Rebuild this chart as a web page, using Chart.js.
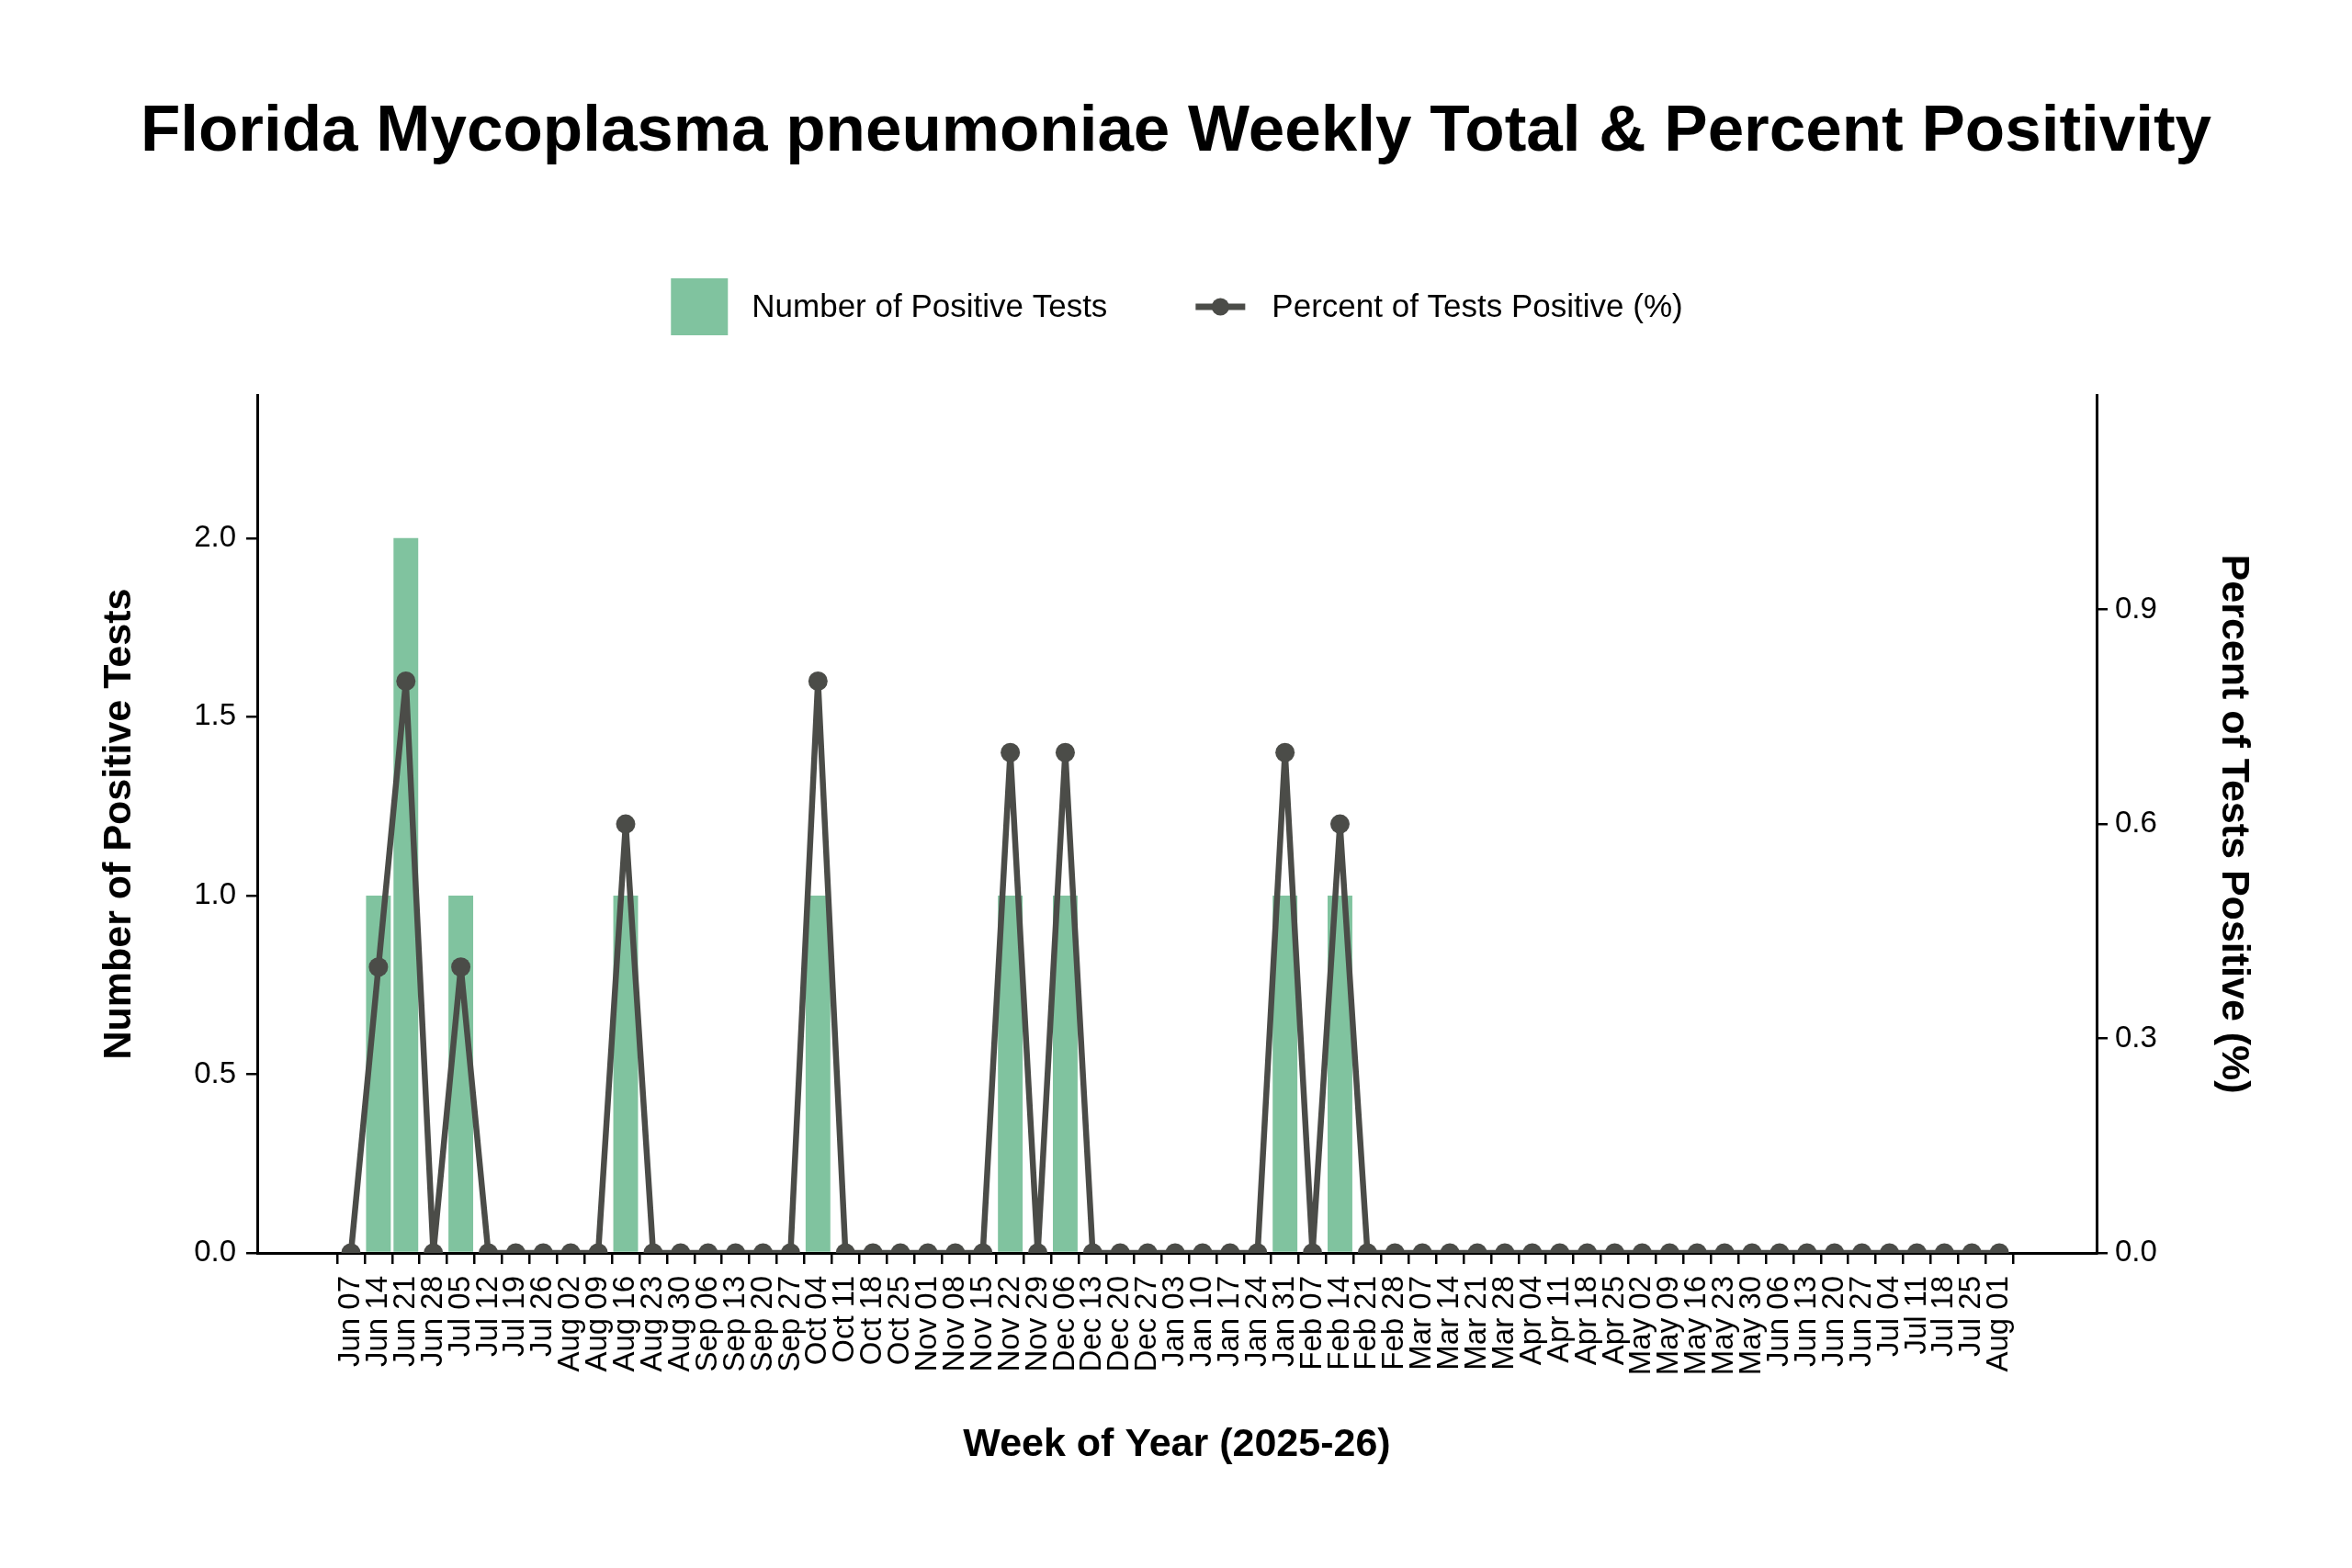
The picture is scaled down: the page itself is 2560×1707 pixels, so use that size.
<!DOCTYPE html>
<html>
<head>
<meta charset="utf-8">
<script src="https://cdn.jsdelivr.net/npm/chart.js@4.4.1/dist/chart.umd.min.js"></script>
<style>
  body { margin: 0; background: #ffffff; }
  #wrap { width: 2560px; height: 1707px; }
</style>
</head>
<body>
<div id="wrap"><canvas id="mycoChart" width="2560" height="1707"></canvas></div>
<script>
const weeks = [
  'Jun 07', 'Jun 14', 'Jun 21', 'Jun 28', 'Jul 05', 'Jul 12', 'Jul 19', 'Jul 26',
  'Aug 02', 'Aug 09', 'Aug 16', 'Aug 23', 'Aug 30', 'Sep 06', 'Sep 13', 'Sep 20',
  'Sep 27', 'Oct 04', 'Oct 11', 'Oct 18', 'Oct 25', 'Nov 01', 'Nov 08', 'Nov 15',
  'Nov 22', 'Nov 29', 'Dec 06', 'Dec 13', 'Dec 20', 'Dec 27', 'Jan 03', 'Jan 10',
  'Jan 17', 'Jan 24', 'Jan 31', 'Feb 07', 'Feb 14', 'Feb 21', 'Feb 28', 'Mar 07',
  'Mar 14', 'Mar 21', 'Mar 28', 'Apr 04', 'Apr 11', 'Apr 18', 'Apr 25', 'May 02',
  'May 09', 'May 16', 'May 23', 'May 30', 'Jun 06', 'Jun 13', 'Jun 20', 'Jun 27',
  'Jul 04', 'Jul 11', 'Jul 18', 'Jul 25', 'Aug 01'
];

const positiveTests = [
  0, 1, 2, 0, 1, 0, 0, 0, 0, 0, 1, 0, 0, 0, 0, 0,
  0, 1, 0, 0, 0, 0, 0, 0, 1, 0, 1, 0, 0, 0, 0, 0,
  0, 0, 1, 0, 1, 0, 0, 0, 0, 0, 0, 0, 0, 0, 0, 0,
  0, 0, 0, 0, 0, 0, 0, 0, 0, 0, 0, 0, 0
];

const percentPositive = [
  0, 0.4, 0.8, 0, 0.4, 0, 0, 0, 0, 0, 0.6, 0, 0, 0, 0, 0,
  0, 0.8, 0, 0, 0, 0, 0, 0, 0.7, 0, 0.7, 0, 0, 0, 0, 0,
  0, 0, 0.7, 0, 0.6, 0, 0, 0, 0, 0, 0, 0, 0, 0, 0, 0,
  0, 0, 0, 0, 0, 0, 0, 0, 0, 0, 0, 0, 0
];

const countTicks = [0, 0.5, 1, 1.5, 2];
const percentTicks = [0, 0.3, 0.6, 0.9];

const barColor = '#80c39f';
const lineColor = '#4b4c48';
const fontFamily = "'Liberation Sans', Arial, sans-serif";

// legend drawn by hand so it can sit in the gap between title and plot
const ggLegend = {
  id: 'ggLegend',
  afterDraw(chart) {
    const ctx = chart.ctx;
    const barSet = chart.data.datasets[1];
    const lineSet = chart.data.datasets[0];
    const cy = 334;
    ctx.save();
    ctx.font = '35px ' + fontFamily;
    ctx.textBaseline = 'middle';
    ctx.textAlign = 'left';
    const w1 = ctx.measureText(barSet.label).width;
    const w2 = ctx.measureText(lineSet.label).width;
    const total = 62 + 26 + w1 + 96 + 54 + 29 + w2;
    let x = (chart.chartArea.left + chart.chartArea.right) / 2 - total / 2;

    ctx.fillStyle = barSet.backgroundColor;
    ctx.fillRect(x, cy - 31, 62, 62);
    x += 62 + 26;
    ctx.fillStyle = '#000000';
    ctx.fillText(barSet.label, x, cy + 1);
    x += w1 + 96;

    ctx.strokeStyle = lineSet.borderColor;
    ctx.lineWidth = 7;
    ctx.beginPath();
    ctx.moveTo(x, cy);
    ctx.lineTo(x + 54, cy);
    ctx.stroke();
    ctx.fillStyle = lineSet.borderColor;
    ctx.beginPath();
    ctx.arc(x + 27, cy, 9.5, 0, Math.PI * 2);
    ctx.fill();
    x += 54 + 29;
    ctx.fillStyle = '#000000';
    ctx.fillText(lineSet.label, x, cy + 1);
    ctx.restore();
  }
};

const axisLine = { display: true, color: '#000000', width: 3 };
const tickMarks = {
  display: true,
  drawOnChartArea: false,
  drawTicks: true,
  tickLength: 12,
  color: '#000000',
  lineWidth: 2.5
};

const ctx = document.getElementById('mycoChart').getContext('2d');
new Chart(ctx, {
  data: {
    labels: weeks,
    datasets: [
      {
        type: 'line',
        label: 'Percent of Tests Positive (%)',
        data: percentPositive.map((v, i) => ({ x: i, y: v })),
        yAxisID: 'y1',
        borderColor: lineColor,
        backgroundColor: lineColor,
        borderWidth: 6.5,
        pointRadius: 10.5,
        pointHoverRadius: 10.5,
        pointBackgroundColor: lineColor,
        pointBorderWidth: 0,
        tension: 0,
        clip: 0,
        order: 0
      },
      {
        type: 'bar',
        label: 'Number of Positive Tests',
        data: positiveTests.map((v, i) => ({ x: i, y: v })),
        yAxisID: 'y',
        backgroundColor: barColor,
        borderWidth: 0,
        barPercentage: 0.9,
        categoryPercentage: 1.0,
        order: 1
      }
    ]
  },
  plugins: [ggLegend],
  options: {
    responsive: false,
    devicePixelRatio: 1,
    animation: false,
    layout: { padding: 0 },
    plugins: {
      legend: { display: false },
      tooltip: { enabled: false },
      title: {
        display: true,
        text: 'Florida Mycoplasma pneumoniae Weekly Total & Percent Positivity',
        color: '#000000',
        font: { family: fontFamily, size: 71, weight: 'bold' },
        padding: { top: 102, bottom: 243 }
      }
    },
    scales: {
      x: {
        type: 'linear',
        position: 'bottom',
        offset: false,
        min: -3.41,
        max: 63.54,
        afterBuildTicks: (axis) => { axis.ticks = weeks.map((w, i) => ({ value: i })); },
        afterFit: (axis) => { axis.height = 343; },
        border: axisLine,
        grid: tickMarks,
        ticks: {
          autoSkip: false,
          minRotation: 90,
          maxRotation: 90,
          padding: 13,
          color: '#000000',
          font: { family: fontFamily, size: 33 },
          callback: (v) => weeks[v]
        },
        title: {
          display: true,
          text: 'Week of Year (2025-26)',
          color: '#000000',
          font: { family: fontFamily, size: 43, weight: 'bold' },
          padding: { top: 0, bottom: 108 }
        }
      },
      y: {
        type: 'linear',
        position: 'left',
        min: 0,
        max: 2.4,
        afterBuildTicks: (axis) => { axis.ticks = countTicks.map((v) => ({ value: v })); },
        afterFit: (axis) => { axis.width = 280; },
        border: axisLine,
        grid: tickMarks,
        ticks: {
          padding: 11,
          color: '#000000',
          font: { family: fontFamily, size: 33 },
          callback: (v) => Number(v).toFixed(1)
        },
        title: {
          display: true,
          text: 'Number of Positive Tests',
          color: '#000000',
          font: { family: fontFamily, size: 43, weight: 'bold' },
          padding: { top: 104, bottom: 0 }
        }
      },
      y1: {
        type: 'linear',
        position: 'right',
        min: 0,
        max: 1.2,
        afterBuildTicks: (axis) => { axis.ticks = percentTicks.map((v) => ({ value: v })); },
        afterFit: (axis) => { axis.width = 278; },
        border: axisLine,
        grid: tickMarks,
        ticks: {
          padding: 8,
          color: '#000000',
          font: { family: fontFamily, size: 33 },
          callback: (v) => Number(v).toFixed(1)
        },
        title: {
          display: true,
          text: 'Percent of Tests Positive (%)',
          color: '#000000',
          font: { family: fontFamily, size: 43, weight: 'bold' },
          padding: { top: 103, bottom: 0 }
        }
      }
    }
  }
});
</script>
</body>
</html>
